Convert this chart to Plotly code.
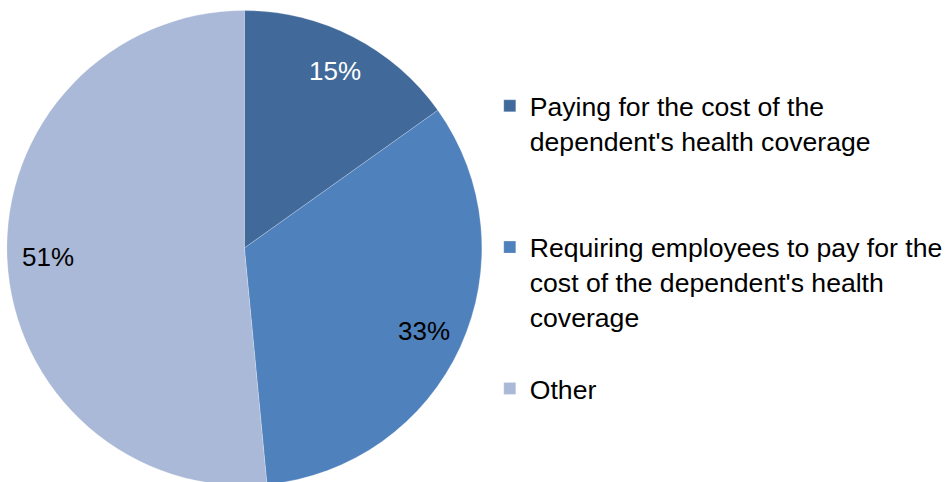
import math
import plotly.graph_objects as go

# Share of respondents by approach
labels = [
    "Paying for the cost of the<br>dependent's health coverage",
    "Requiring employees to pay for the<br>cost of the dependent's health<br>coverage",
    "Other",
]
values = [15, 33, 51]
colors = ["#416A9B", "#4F81BD", "#AAB9D7"]
label_colors = ["#FFFFFF", "#000000", "#000000"]

# Legend entries padded to equal four-line slots
line_counts = [lab.count("<br>") + 1 for lab in labels]
legend_labels = [lab + "<br>\u00a0" * (4 - n) if i < len(labels) - 1 else lab
                 for i, (lab, n) in enumerate(zip(labels, line_counts))]

W, H = 948, 490
CX, CY, R = 247, 248, 240  # pie centre and radius in pixels
FONT = "Liberation Sans, Arial, sans-serif"

fig = go.Figure(
    go.Pie(
        labels=legend_labels,
        values=values,
        sort=False,
        direction="clockwise",
        rotation=0,
        marker=dict(colors=colors, line=dict(color="rgba(255,255,255,0.45)", width=0.5)),
        textinfo="none",
        hoverinfo="label+value",
        domain=dict(x=[(CX - R) / W, (CX + R) / W], y=[(H - CY - R) / H, (H - CY + R) / H]),
    )
)

# Percentage labels placed along each slice's bisector
total = sum(values)
cum = 0
for v, c in zip(values, label_colors):
    mid = (cum + v / 2) / total * 2 * math.pi
    cum += v
    r = 0.83 * R
    px = CX + r * math.sin(mid)
    py = CY - r * math.cos(mid)
    fig.add_annotation(
        x=px / W, y=1 - py / H, xref="paper", yref="paper",
        xanchor="center", yanchor="middle",
        text=f"{v}%", showarrow=False,
        font=dict(family=FONT, size=26, color=c),
    )

fig.update_layout(
    width=W,
    height=H,
    margin=dict(l=0, r=0, t=0, b=0),
    paper_bgcolor="white",
    plot_bgcolor="white",
    showlegend=True,
    legend=dict(
        x=495 / W, xanchor="left",
        y=1 - 82 / H, yanchor="top",
        valign="top",
        font=dict(family=FONT, size=26.6, color="#000000"),
        bgcolor="rgba(0,0,0,0)",
        borderwidth=0,
    ),
    font=dict(family=FONT),
)

fig.write_html(
    "out.html",
    post_script="document.documentElement.style.overflow='hidden';document.body.style.overflow='hidden';",
)
